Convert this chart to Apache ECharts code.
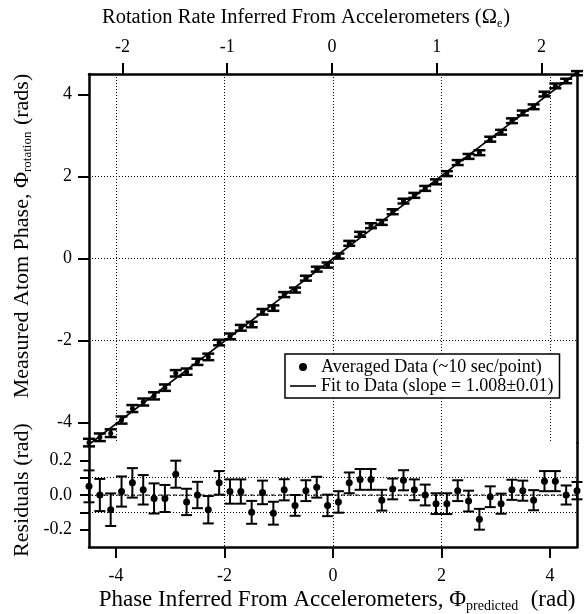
<!DOCTYPE html>
<html>
<head>
<meta charset="utf-8">
<script src="https://cdn.jsdelivr.net/npm/echarts@6/dist/echarts.min.js"></script>
<style>
  html, body { margin: 0; padding: 0; background: #fff; }
  #chart { width: 587px; height: 614px; }
</style>
</head>
<body>
<div id="chart"></div>
<script>
// predicted phase (rad), one point every 0.2 rad
const phasePredicted = [-4.5, -4.3, -4.1, -3.9, -3.7, -3.5, -3.3, -3.1, -2.9, -2.7, -2.5, -2.3, -2.1, -1.9, -1.7, -1.5,
  -1.3, -1.1, -0.9, -0.7, -0.5, -0.3, -0.1, 0.1, 0.3, 0.5, 0.7, 0.9, 1.1, 1.3, 1.5, 1.7, 1.9, 2.1, 2.3, 2.5,
  2.7, 2.9, 3.1, 3.3, 3.5, 3.7, 3.9, 4.1, 4.3, 4.5]
// measured atom phase (rad)
const phaseMeasured = [-4.49, -4.36, -4.26, -3.94, -3.66, -3.50, -3.35, -3.15, -2.80, -2.76, -2.52, -2.40, -2.05, -1.90, -1.69, -1.61,
  -1.30, -1.21, -0.88, -0.77, -0.48, -0.26, -0.16, 0.06, 0.37, 0.59, 0.80, 0.88, 1.14, 1.40, 1.54, 1.71, 1.87, 2.07, 2.34, 2.49,
  2.58, 2.91, 3.08, 3.36, 3.55, 3.70, 4.01, 4.21, 4.33, 4.52]
// residuals from the fit (rad)
const residuals = [0.05, 0.0, -0.085, 0.02, 0.07, 0.03, -0.02, -0.02, 0.12, -0.04, 0.0, -0.085, 0.07, 0.02, 0.02, -0.10,
  0.015, -0.105, 0.03, -0.06, 0.025, 0.045, -0.06, -0.04, 0.07, 0.09, 0.09, -0.03, 0.035, 0.085, 0.03, 0.0, -0.05, -0.05, 0.025, -0.035,
  -0.14, -0.01, -0.05, 0.03, 0.025, -0.03, 0.08, 0.08, 0.0, 0.025]
// 1-sigma error bars (rad)
const phaseErrors = [0.092, 0.093, 0.094, 0.087, 0.085, 0.085, 0.087, 0.078, 0.078, 0.076, 0.076, 0.079, 0.068, 0.07, 0.07, 0.066,
  0.068, 0.066, 0.061, 0.06, 0.06, 0.06, 0.062, 0.062, 0.06, 0.06, 0.06, 0.06, 0.06, 0.058, 0.06, 0.06, 0.06, 0.06, 0.06, 0.06,
  0.06, 0.06, 0.058, 0.058, 0.058, 0.058, 0.058, 0.058, 0.055, 0.05]
const fitSlope = 1.008

const phaseTicks = [-4, -2, 0, 2, 4]
const rateTicks = [-2, -1, 0, 1, 2]
const measuredTicks = [-4, -2, 0, 2, 4]
const residualTicks = [-0.2, -0.1, 0, 0.1, 0.2]
const residualLabels = [-0.2, 0, 0.2]

const FONT = 'Liberation Serif'
const DATA_NAME = 'Averaged Data (~10 sec/point)'
const FIT_NAME = 'Fit to Data (slope = 1.008\u00b10.01)'

const chart = echarts.init(document.getElementById('chart'), null, { renderer: 'canvas' })

const frameLine = { show: true, onZero: false, lineStyle: { color: '#000', width: 2.5 } }
const gridLine = { color: '#000', width: 1, type: [1, 2] }
const noAxis = {
  axisLine: { show: false }, axisTick: { show: false }, axisLabel: { show: false }, splitLine: { show: false }
}
const labelStyle = { color: '#000', fontFamily: FONT, fontSize: 18 }
const tickStyle = { color: '#000', width: 2 }

function errorBars (capHalf, dotR, lw) {
  return function (params, api) {
    const x = api.value(0)
    const y = api.value(1)
    const e = api.value(2)
    const hi = api.coord([x, y + e])
    const lo = api.coord([x, y - e])
    const c = api.coord([x, y])
    const st = { stroke: '#000', lineWidth: lw }
    return {
      type: 'group',
      children: [
        { type: 'line', shape: { x1: hi[0], y1: hi[1], x2: lo[0], y2: lo[1] }, style: st },
        { type: 'line', shape: { x1: hi[0] - capHalf, y1: hi[1], x2: hi[0] + capHalf, y2: hi[1] }, style: st },
        { type: 'line', shape: { x1: lo[0] - capHalf, y1: lo[1], x2: lo[0] + capHalf, y2: lo[1] }, style: st },
        { type: 'circle', shape: { cx: c[0], cy: c[1], r: dotR }, style: { fill: '#000' } }
      ]
    }
  }
}

function title (text, x, y, size, rotation) {
  return {
    type: 'text', x: x, y: y, rotation: rotation || 0,
    style: {
      text: text, fill: '#000', fontFamily: FONT, fontSize: size, align: 'center', verticalAlign: 'middle',
      rich: {
        s: { fontFamily: FONT, fontSize: Math.round(size * 0.6), padding: [Math.round(size * 0.55), 1, 0, 0] },
        n: { fontFamily: FONT, fontSize: size }
      }
    }
  }
}

const last = phasePredicted.length - 1

const option = {
  animation: false,
  backgroundColor: '#fff',
  textStyle: { fontFamily: FONT },
  grid: [
    { left: 89, right: 10, top: 74, height: 369 },
    { left: 89, right: 10, top: 443, height: 104 }
  ],
  xAxis: [
    {
      type: 'value', gridIndex: 0, min: -4.5, max: 4.5, position: 'bottom',
      axisLine: { show: false, onZero: false }, axisTick: { show: false }, axisLabel: { show: false },
      splitLine: { show: true, showMinLine: false, showMaxLine: false, lineStyle: gridLine }
    },
    {
      type: 'value', gridIndex: 0, min: -2.32, max: 2.34, position: 'top',
      axisLine: frameLine,
      axisTick: { show: true, customValues: rateTicks, length: 11, lineStyle: tickStyle },
      axisLabel: Object.assign({ customValues: rateTicks, margin: 18 }, labelStyle),
      splitLine: { show: false }
    },
    {
      type: 'value', gridIndex: 1, min: -4.5, max: 4.5, position: 'bottom',
      axisLine: frameLine,
      axisTick: { show: true, customValues: phaseTicks, length: 11, lineStyle: tickStyle },
      axisLabel: Object.assign({ customValues: phaseTicks, margin: 20 }, labelStyle),
      splitLine: { show: true, showMinLine: false, showMaxLine: false, lineStyle: gridLine }
    }
  ],
  yAxis: [
    {
      type: 'value', gridIndex: 0, min: -4.5, max: 4.5, position: 'left',
      axisLine: frameLine,
      axisTick: { show: true, customValues: measuredTicks, length: 11, lineStyle: tickStyle },
      axisLabel: Object.assign({ customValues: measuredTicks, margin: 17 }, labelStyle),
      splitLine: { show: true, showMinLine: false, showMaxLine: false, lineStyle: gridLine }
    },
    Object.assign({ type: 'value', gridIndex: 0, min: -4.5, max: 4.5, position: 'right' }, noAxis, { axisLine: frameLine }),
    {
      type: 'value', gridIndex: 1, min: -0.3, max: 0.3, position: 'left',
      axisLine: frameLine,
      axisTick: { show: true, customValues: residualTicks, length: 9, lineStyle: tickStyle },
      axisLabel: Object.assign({ customValues: residualLabels, margin: 17, formatter: v => v.toFixed(1) }, labelStyle),
      splitLine: { show: true, showMinLine: false, showMaxLine: false, lineStyle: gridLine }
    },
    Object.assign({ type: 'value', gridIndex: 1, min: -0.3, max: 0.3, position: 'right' }, noAxis, { axisLine: frameLine })
  ],
  legend: {
    orient: 'vertical', left: 285, top: 354,
    data: [
      { name: DATA_NAME, icon: 'circle' },
      { name: FIT_NAME, icon: 'path://M0,0L26,0L26,1.6L0,1.6Z' }
    ],
    symbolKeepAspect: true,
    itemWidth: 26, itemHeight: 8, itemGap: 1,
    padding: [4, 6, 3, 5],
    backgroundColor: '#fff', borderColor: '#000', borderWidth: 1.5, borderRadius: 0,
    textStyle: { color: '#000', fontFamily: FONT, fontSize: 18, lineHeight: 17 },
    selectedMode: false
  },
  series: [
    {
      name: FIT_NAME, type: 'line', xAxisIndex: 0, yAxisIndex: 0, symbol: 'none',
      lineStyle: { color: '#000', width: 1.6 }, itemStyle: { color: '#000' },
      data: [[phasePredicted[0], fitSlope * phasePredicted[0]], [phasePredicted[last], fitSlope * phasePredicted[last]]]
    },
    {
      name: DATA_NAME, type: 'custom', xAxisIndex: 0, yAxisIndex: 0,
      itemStyle: { color: '#000' }, encode: { x: 0, y: 1 },
      renderItem: errorBars(6, 2.5, 2.5),
      data: phasePredicted.map((x, i) => [x, phaseMeasured[i], phaseErrors[i]])
    },
    {
      name: 'zero', type: 'line', xAxisIndex: 2, yAxisIndex: 2, symbol: 'none',
      lineStyle: { color: '#000', width: 1.2, type: [4, 3] },
      data: [[phasePredicted[0], 0], [phasePredicted[last], 0]]
    },
    {
      name: 'Residuals', type: 'custom', xAxisIndex: 2, yAxisIndex: 2,
      itemStyle: { color: '#000' }, encode: { x: 0, y: 1 },
      renderItem: errorBars(5.5, 3.5, 2),
      data: phasePredicted.map((x, i) => [x, residuals[i], phaseErrors[i]])
    }
  ],
  graphic: [
    title('Rotation Rate Inferred From Accelerometers (\u03a9{s|e})', 306, 18, 20.5),
    title('Phase Inferred From Accelerometers, \u03a6{s|predicted}  (rad)', 337, 600, 23),
    title('Measured Atom Phase, \u03a6{s|rotation} (rads)', 22, 236, 22, Math.PI / 2),
    title('Residuals (rad)', 22, 490, 22, Math.PI / 2)
  ]
}

chart.setOption(option)
</script>
</body>
</html>
